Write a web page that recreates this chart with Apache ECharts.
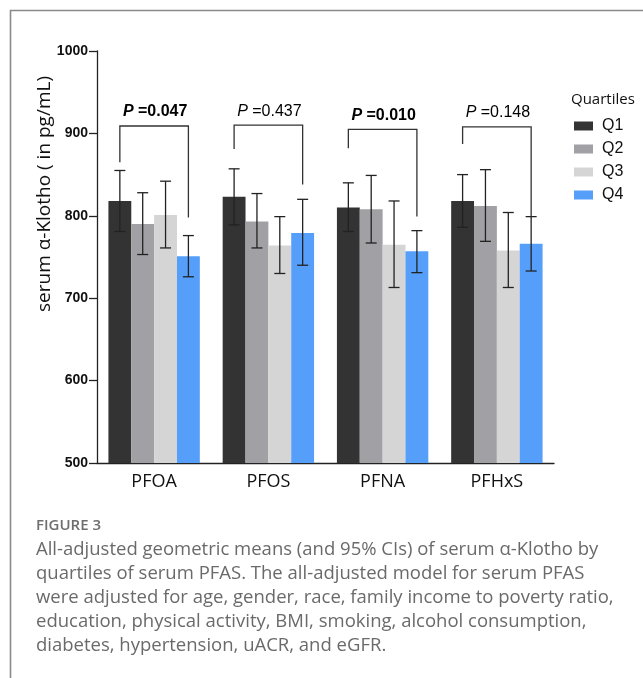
<!DOCTYPE html>
<html>
<head>
<meta charset="utf-8">
<script src="https://cdn.jsdelivr.net/npm/echarts@6/dist/echarts.min.js"></script>
<style>html,body{margin:0;padding:0;background:#fff;}#chart{width:643px;height:678px;}</style>
</head>
<body>
<div id="chart"></div>
<script>
// ---- data ----
var categories = ['PFOA', 'PFOS', 'PFNA', 'PFHxS'];
var seriesNames = ['Q1', 'Q2', 'Q3', 'Q4'];
var q1 = [818, 823, 810, 818];
var q2 = [790, 793, 808, 812];
var q3 = [801, 764, 765, 758];
var q4 = [751, 779, 757, 766];
var q1Low = [781, 789, 781, 786], q1High = [855, 857, 840, 850];
var q2Low = [753, 761, 767, 769], q2High = [828, 827, 849, 856];
var q3Low = [761, 730, 713, 713], q3High = [842, 799, 818, 804];
var q4Low = [726, 740, 731, 733], q4High = [776, 820, 782, 799];
var bracketTop = [909, 910, 905, 908];
var bracketLeftEnd = [865, 881, 882, 887];
var bracketRightEnd = [798, 838, 799, 799];
var pValues = ['0.047', '0.437', '0.010', '0.148'];
var pBold = [true, false, true, false];
var yTicks = [500, 600, 700, 800, 900, 1000];
var captionTitle = 'FIGURE 3';
var captionLines = [
  'All-adjusted geometric means (and 95% CIs) of serum \u03b1-Klotho by',
  'quartiles of serum PFAS. The all-adjusted model for serum PFAS',
  'were adjusted for age, gender, race, family income to poverty ratio,',
  'education, physical activity, BMI, smoking, alcohol consumption,',
  'diabetes, hypertension, uACR, and eGFR.'
];

var colors = ['#333333', '#a1a1a5', '#d5d5d5', '#559ffb'];
var means = [q1, q2, q3, q4];
var lows = [q1Low, q2Low, q3Low, q4Low];
var highs = [q1High, q2High, q3High, q4High];
var CAT_GAP = 0.2;

var chart = echarts.init(document.getElementById('chart'), null, {renderer: 'canvas'});

var series = [];
seriesNames.forEach(function (name, i) {
  series.push({
    name: name,
    type: 'bar',
    data: means[i],
    barGap: '0%',
    barCategoryGap: (CAT_GAP * 100) + '%',
    itemStyle: {color: colors[i]},
    emphasis: {disabled: true},
    z: 2
  });
});

seriesNames.forEach(function (name, i) {
  series.push({
    name: 'err' + name,
    type: 'custom',
    z: 5,
    data: categories.map(function (c, k) { return [k, lows[i][k], highs[i][k]]; }),
    encode: {x: 0, y: [1, 2]},
    renderItem: function (params, api) {
      var k = api.value(0);
      var lo = api.coord([k, api.value(1)]);
      var hi = api.coord([k, api.value(2)]);
      var band = api.size([1, 0])[0];
      var bw = band * (1 - CAT_GAP) / 4;
      var x = lo[0] + (i - 1.5) * bw;
      var hw = 5.5;
      var st = {stroke: '#222', lineWidth: 1.3};
      return {
        type: 'group',
        children: [
          {type: 'line', shape: {x1: x, y1: lo[1], x2: x, y2: hi[1]}, style: st},
          {type: 'line', shape: {x1: x - hw, y1: lo[1], x2: x + hw, y2: lo[1]}, style: st},
          {type: 'line', shape: {x1: x - hw, y1: hi[1], x2: x + hw, y2: hi[1]}, style: st}
        ]
      };
    }
  });
});

series.push({
  name: 'brackets',
  type: 'custom',
  z: 6,
  data: categories.map(function (c, k) { return [k, bracketTop[k], bracketLeftEnd[k], bracketRightEnd[k]]; }),
  encode: {x: 0, y: [1, 2, 3]},
  renderItem: function (params, api) {
    var k = api.value(0);
    var top = api.coord([k, api.value(1)]);
    var le = api.coord([k, api.value(2)]);
    var re = api.coord([k, api.value(3)]);
    var band = api.size([1, 0])[0];
    var bw = band * (1 - CAT_GAP) / 4;
    var xl = top[0] - 1.5 * bw;
    var xr = top[0] + 1.5 * bw;
    var idx = params.dataIndex;
    var bold = pBold[idx] ? 'bold' : 'normal';
    return {
      type: 'group',
      children: [
        {type: 'polyline', shape: {points: [[xl, le[1]], [xl, top[1]], [xr, top[1]], [xr, re[1]]]},
         style: {stroke: '#333', lineWidth: 1.3, fill: null}},
        {type: 'text', x: top[0] + 1, y: top[1] - 14,
         style: {
           text: '{i|P} {n|=' + pValues[idx] + '}',
           align: 'center', verticalAlign: 'middle',
           rich: {
             i: {fontStyle: 'italic', fontWeight: bold, fontSize: 16, fontFamily: 'Liberation Sans, Arial', fill: '#000'},
             n: {fontWeight: bold, fontSize: 16, fontFamily: 'Liberation Sans, Arial', fill: '#000'}
           },
           fontSize: 16, fontFamily: 'Liberation Sans, Arial', fill: '#000'
         }}
      ]
    };
  }
});

var graphics = [
  {type: 'polyline', shape: {points: [[10.5, 678], [10.5, 10.5], [643, 10.5]]},
   style: {stroke: '#8a8a8a', lineWidth: 1.6, fill: null}, silent: true},
  {type: 'text', x: 45, y: 194, rotation: Math.PI / 2,
   style: {text: 'serum \u03b1-Klotho ( in pg/mL)', align: 'center', verticalAlign: 'middle',
           font: '19px "Open Sans", sans-serif', fill: '#111'}},
  {type: 'text', x: 571, y: 100,
   style: {text: 'Quartiles', align: 'left', verticalAlign: 'middle',
           font: '15px "Open Sans", sans-serif', fill: '#111'}},
  {type: 'text', x: 36, y: 526,
   style: {text: captionTitle, align: 'left', verticalAlign: 'middle',
           font: '600 15px "Open Sans", sans-serif', fill: '#6e6e6e'}}
];
captionLines.forEach(function (t, j) {
  graphics.push({type: 'text', x: 36, y: 550 + j * 24,
    style: {text: t, align: 'left', verticalAlign: 'middle',
            font: '18.5px "Open Sans", sans-serif', fill: '#6a6a6a'}});
});

chart.setOption({
  animation: false,
  backgroundColor: '#fff',
  grid: {left: 97, top: 51, width: 457, height: 412, containLabel: false},
  legend: {
    data: seriesNames,
    orient: 'vertical',
    left: 569, top: 113,
    itemWidth: 19, itemHeight: 9, itemGap: 7,
    icon: 'rect',
    textStyle: {fontSize: 16, fontFamily: 'Liberation Sans, Arial', color: '#111', padding: [0, 0, 0, 4]},
    selectedMode: false
  },
  xAxis: {
    type: 'category',
    data: categories,
    axisLine: {lineStyle: {color: '#222', width: 1.3}},
    axisTick: {alignWithLabel: true, length: 6, lineStyle: {color: '#222', width: 1.3}},
    axisLabel: {fontSize: 18, fontFamily: '"Open Sans", sans-serif', color: '#111', margin: 10}
  },
  yAxis: {
    type: 'value',
    min: yTicks[0], max: yTicks[yTicks.length - 1], interval: 100,
    axisLine: {show: true, lineStyle: {color: '#222', width: 1.3}},
    axisTick: {show: true, length: 8, lineStyle: {color: '#222', width: 1.3}},
    axisLabel: {fontSize: 14, fontWeight: 'bold', fontFamily: 'Liberation Sans, Arial', color: '#111', margin: 9,
                formatter: function (v) { return String(v); }},
    splitLine: {show: false}
  },
  graphic: graphics,
  series: series
});
</script>
</body>
</html>
